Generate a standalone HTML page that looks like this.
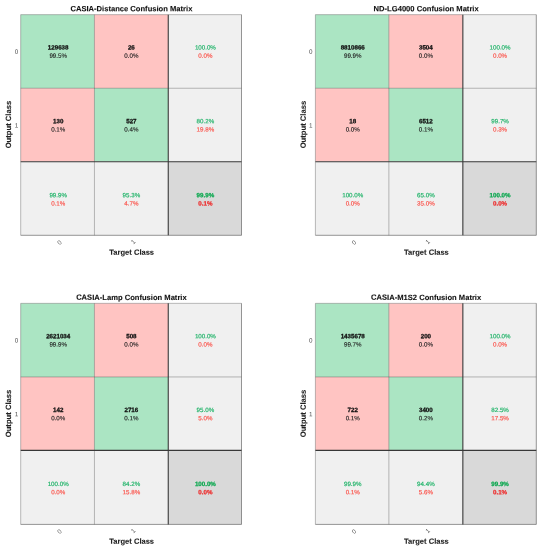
<!DOCTYPE html><html><head><meta charset="utf-8"><title>Confusion Matrices</title><style>html,body{margin:0;padding:0;background:#fff}svg{display:block;will-change:transform}text{font-family:"Liberation Sans",sans-serif;text-rendering:geometricPrecision}</style></head><body>
<svg width="543" height="550" viewBox="0 0 543 550">
<rect width="543" height="550" fill="#fff"/>
<g>
<rect x="20.70" y="14.65" width="73.75" height="73.60" fill="#ABE5C3"/>
<rect x="94.45" y="14.65" width="73.80" height="73.60" fill="#FFC4C2"/>
<rect x="168.25" y="14.65" width="73.25" height="73.60" fill="#F0F0F0"/>
<rect x="20.70" y="88.25" width="73.75" height="73.45" fill="#FFC4C2"/>
<rect x="94.45" y="88.25" width="73.80" height="73.45" fill="#ABE5C3"/>
<rect x="168.25" y="88.25" width="73.25" height="73.45" fill="#F0F0F0"/>
<rect x="20.70" y="161.70" width="73.75" height="73.60" fill="#F0F0F0"/>
<rect x="94.45" y="161.70" width="73.80" height="73.60" fill="#F0F0F0"/>
<rect x="168.25" y="161.70" width="73.25" height="73.60" fill="#D9D9D9"/>
<line x1="20.70" y1="14.65" x2="20.70" y2="235.30" stroke="#777" stroke-width="0.5"/>
<line x1="20.70" y1="14.65" x2="241.50" y2="14.65" stroke="#777" stroke-width="0.5"/>
<line x1="94.45" y1="14.65" x2="94.45" y2="235.30" stroke="#3a3a3a" stroke-width="0.35"/>
<line x1="20.70" y1="88.25" x2="241.50" y2="88.25" stroke="#3a3a3a" stroke-width="0.35"/>
<line x1="241.50" y1="14.65" x2="241.50" y2="235.30" stroke="#505050" stroke-width="0.6"/>
<line x1="20.70" y1="235.30" x2="241.50" y2="235.30" stroke="#505050" stroke-width="0.6"/>
<line x1="168.25" y1="14.65" x2="168.25" y2="235.30" stroke="#383838" stroke-width="1.1"/>
<line x1="20.70" y1="161.70" x2="241.50" y2="161.70" stroke="#383838" stroke-width="1.1"/>
<text transform="translate(58.18,49.60) rotate(0.1)" font-size="6.2" font-weight="bold" fill="#111" stroke="#111" stroke-width="0.28" text-anchor="middle">129638</text>
<text transform="translate(58.18,57.75) rotate(0.1)" font-size="6.2" font-weight="normal" fill="#202020" stroke="#202020" stroke-width="0.12" text-anchor="middle">99.5%</text>
<text transform="translate(131.35,49.60) rotate(0.1)" font-size="6.2" font-weight="bold" fill="#111" stroke="#111" stroke-width="0.28" text-anchor="middle">26</text>
<text transform="translate(131.35,57.75) rotate(0.1)" font-size="6.2" font-weight="normal" fill="#202020" stroke="#202020" stroke-width="0.12" text-anchor="middle">0.0%</text>
<text transform="translate(58.18,123.35) rotate(0.1)" font-size="6.2" font-weight="bold" fill="#111" stroke="#111" stroke-width="0.28" text-anchor="middle">130</text>
<text transform="translate(58.18,131.50) rotate(0.1)" font-size="6.2" font-weight="normal" fill="#202020" stroke="#202020" stroke-width="0.12" text-anchor="middle">0.1%</text>
<text transform="translate(131.35,123.35) rotate(0.1)" font-size="6.2" font-weight="bold" fill="#111" stroke="#111" stroke-width="0.28" text-anchor="middle">527</text>
<text transform="translate(131.35,131.50) rotate(0.1)" font-size="6.2" font-weight="normal" fill="#202020" stroke="#202020" stroke-width="0.12" text-anchor="middle">0.4%</text>
<text transform="translate(205.38,49.60) rotate(0.1)" font-size="6.2" font-weight="normal" fill="#22B46A" stroke="#22B46A" stroke-width="0.18" text-anchor="middle">100.0%</text>
<text transform="translate(205.38,57.75) rotate(0.1)" font-size="6.2" font-weight="normal" fill="#FB564E" stroke="#FB564E" stroke-width="0.18" text-anchor="middle">0.0%</text>
<text transform="translate(205.38,123.35) rotate(0.1)" font-size="6.2" font-weight="normal" fill="#22B46A" stroke="#22B46A" stroke-width="0.18" text-anchor="middle">80.2%</text>
<text transform="translate(205.38,131.50) rotate(0.1)" font-size="6.2" font-weight="normal" fill="#FB564E" stroke="#FB564E" stroke-width="0.18" text-anchor="middle">19.8%</text>
<text transform="translate(58.18,197.30) rotate(0.1)" font-size="6.2" font-weight="normal" fill="#22B46A" stroke="#22B46A" stroke-width="0.18" text-anchor="middle">99.9%</text>
<text transform="translate(58.18,205.45) rotate(0.1)" font-size="6.2" font-weight="normal" fill="#FB564E" stroke="#FB564E" stroke-width="0.18" text-anchor="middle">0.1%</text>
<text transform="translate(131.35,197.30) rotate(0.1)" font-size="6.2" font-weight="normal" fill="#22B46A" stroke="#22B46A" stroke-width="0.18" text-anchor="middle">95.3%</text>
<text transform="translate(131.35,205.45) rotate(0.1)" font-size="6.2" font-weight="normal" fill="#FB564E" stroke="#FB564E" stroke-width="0.18" text-anchor="middle">4.7%</text>
<text transform="translate(205.38,197.30) rotate(0.1)" font-size="6.2" font-weight="bold" fill="#0BA84F" stroke="#0BA84F" stroke-width="0.25" text-anchor="middle">99.9%</text>
<text transform="translate(205.38,205.45) rotate(0.1)" font-size="6.2" font-weight="bold" fill="#EE2C2C" stroke="#EE2C2C" stroke-width="0.25" text-anchor="middle">0.1%</text>
<text transform="translate(131.40,11.25) rotate(0.1)" font-size="7.6" font-weight="bold" fill="#111" stroke="#111" stroke-width="0.1" text-anchor="middle">CASIA-Distance Confusion Matrix</text>
<text transform="translate(131.70,254.70) rotate(0.1)" font-size="7.55" font-weight="bold" fill="#222" stroke="#222" stroke-width="0.1" text-anchor="middle">Target Class</text>
<text transform="translate(11.00,124.58) rotate(-89.9)" font-size="7.65" font-weight="bold" fill="#222" stroke="#222" stroke-width="0.1" text-anchor="middle">Output Class</text>
<text transform="translate(18.20,53.85) rotate(0.1)" font-size="6.3" font-weight="normal" fill="#505050" text-anchor="end">0</text>
<text transform="translate(62.18,242.70) rotate(-44.9)" font-size="6.3" font-weight="normal" fill="#505050" text-anchor="end">0</text>
<text transform="translate(18.20,127.55) rotate(0.1)" font-size="6.3" font-weight="normal" fill="#505050" text-anchor="end">1</text>
<text transform="translate(135.95,242.00) rotate(-44.9)" font-size="6.3" font-weight="normal" fill="#505050" text-anchor="end">1</text>
</g>
<g>
<rect x="315.40" y="14.65" width="73.45" height="73.60" fill="#ABE5C3"/>
<rect x="388.85" y="14.65" width="74.00" height="73.60" fill="#FFC4C2"/>
<rect x="462.85" y="14.65" width="73.45" height="73.60" fill="#F0F0F0"/>
<rect x="315.40" y="88.25" width="73.45" height="73.45" fill="#FFC4C2"/>
<rect x="388.85" y="88.25" width="74.00" height="73.45" fill="#ABE5C3"/>
<rect x="462.85" y="88.25" width="73.45" height="73.45" fill="#F0F0F0"/>
<rect x="315.40" y="161.70" width="73.45" height="73.60" fill="#F0F0F0"/>
<rect x="388.85" y="161.70" width="74.00" height="73.60" fill="#F0F0F0"/>
<rect x="462.85" y="161.70" width="73.45" height="73.60" fill="#D9D9D9"/>
<line x1="315.40" y1="14.65" x2="315.40" y2="235.30" stroke="#777" stroke-width="0.5"/>
<line x1="315.40" y1="14.65" x2="536.30" y2="14.65" stroke="#777" stroke-width="0.5"/>
<line x1="388.85" y1="14.65" x2="388.85" y2="235.30" stroke="#3a3a3a" stroke-width="0.35"/>
<line x1="315.40" y1="88.25" x2="536.30" y2="88.25" stroke="#3a3a3a" stroke-width="0.35"/>
<line x1="536.30" y1="14.65" x2="536.30" y2="235.30" stroke="#505050" stroke-width="0.6"/>
<line x1="315.40" y1="235.30" x2="536.30" y2="235.30" stroke="#505050" stroke-width="0.6"/>
<line x1="462.85" y1="14.65" x2="462.85" y2="235.30" stroke="#383838" stroke-width="1.1"/>
<line x1="315.40" y1="161.70" x2="536.30" y2="161.70" stroke="#383838" stroke-width="1.1"/>
<text transform="translate(352.73,49.60) rotate(0.1)" font-size="6.2" font-weight="bold" fill="#111" stroke="#111" stroke-width="0.28" text-anchor="middle">8810866</text>
<text transform="translate(352.73,57.75) rotate(0.1)" font-size="6.2" font-weight="normal" fill="#202020" stroke="#202020" stroke-width="0.12" text-anchor="middle">99.9%</text>
<text transform="translate(425.85,49.60) rotate(0.1)" font-size="6.2" font-weight="bold" fill="#111" stroke="#111" stroke-width="0.28" text-anchor="middle">3504</text>
<text transform="translate(425.85,57.75) rotate(0.1)" font-size="6.2" font-weight="normal" fill="#202020" stroke="#202020" stroke-width="0.12" text-anchor="middle">0.0%</text>
<text transform="translate(352.73,123.35) rotate(0.1)" font-size="6.2" font-weight="bold" fill="#111" stroke="#111" stroke-width="0.28" text-anchor="middle">18</text>
<text transform="translate(352.73,131.50) rotate(0.1)" font-size="6.2" font-weight="normal" fill="#202020" stroke="#202020" stroke-width="0.12" text-anchor="middle">0.0%</text>
<text transform="translate(425.85,123.35) rotate(0.1)" font-size="6.2" font-weight="bold" fill="#111" stroke="#111" stroke-width="0.28" text-anchor="middle">6512</text>
<text transform="translate(425.85,131.50) rotate(0.1)" font-size="6.2" font-weight="normal" fill="#202020" stroke="#202020" stroke-width="0.12" text-anchor="middle">0.1%</text>
<text transform="translate(500.07,49.60) rotate(0.1)" font-size="6.2" font-weight="normal" fill="#22B46A" stroke="#22B46A" stroke-width="0.18" text-anchor="middle">100.0%</text>
<text transform="translate(500.07,57.75) rotate(0.1)" font-size="6.2" font-weight="normal" fill="#FB564E" stroke="#FB564E" stroke-width="0.18" text-anchor="middle">0.0%</text>
<text transform="translate(500.07,123.35) rotate(0.1)" font-size="6.2" font-weight="normal" fill="#22B46A" stroke="#22B46A" stroke-width="0.18" text-anchor="middle">99.7%</text>
<text transform="translate(500.07,131.50) rotate(0.1)" font-size="6.2" font-weight="normal" fill="#FB564E" stroke="#FB564E" stroke-width="0.18" text-anchor="middle">0.3%</text>
<text transform="translate(352.73,197.30) rotate(0.1)" font-size="6.2" font-weight="normal" fill="#22B46A" stroke="#22B46A" stroke-width="0.18" text-anchor="middle">100.0%</text>
<text transform="translate(352.73,205.45) rotate(0.1)" font-size="6.2" font-weight="normal" fill="#FB564E" stroke="#FB564E" stroke-width="0.18" text-anchor="middle">0.0%</text>
<text transform="translate(425.85,197.30) rotate(0.1)" font-size="6.2" font-weight="normal" fill="#22B46A" stroke="#22B46A" stroke-width="0.18" text-anchor="middle">65.0%</text>
<text transform="translate(425.85,205.45) rotate(0.1)" font-size="6.2" font-weight="normal" fill="#FB564E" stroke="#FB564E" stroke-width="0.18" text-anchor="middle">35.0%</text>
<text transform="translate(500.07,197.30) rotate(0.1)" font-size="6.2" font-weight="bold" fill="#0BA84F" stroke="#0BA84F" stroke-width="0.25" text-anchor="middle">100.0%</text>
<text transform="translate(500.07,205.45) rotate(0.1)" font-size="6.2" font-weight="bold" fill="#EE2C2C" stroke="#EE2C2C" stroke-width="0.25" text-anchor="middle">0.0%</text>
<text transform="translate(426.15,11.25) rotate(0.1)" font-size="7.6" font-weight="bold" fill="#111" stroke="#111" stroke-width="0.1" text-anchor="middle">ND-LG4000 Confusion Matrix</text>
<text transform="translate(426.45,254.70) rotate(0.1)" font-size="7.55" font-weight="bold" fill="#222" stroke="#222" stroke-width="0.1" text-anchor="middle">Target Class</text>
<text transform="translate(305.70,124.58) rotate(-89.9)" font-size="7.65" font-weight="bold" fill="#222" stroke="#222" stroke-width="0.1" text-anchor="middle">Output Class</text>
<text transform="translate(312.50,53.85) rotate(0.1)" font-size="6.3" font-weight="normal" fill="#505050" text-anchor="end">0</text>
<text transform="translate(356.73,242.70) rotate(-44.9)" font-size="6.3" font-weight="normal" fill="#505050" text-anchor="end">0</text>
<text transform="translate(312.50,127.55) rotate(0.1)" font-size="6.3" font-weight="normal" fill="#505050" text-anchor="end">1</text>
<text transform="translate(430.45,242.00) rotate(-44.9)" font-size="6.3" font-weight="normal" fill="#505050" text-anchor="end">1</text>
</g>
<g>
<rect x="20.70" y="303.35" width="73.75" height="73.60" fill="#ABE5C3"/>
<rect x="94.45" y="303.35" width="73.80" height="73.60" fill="#FFC4C2"/>
<rect x="168.25" y="303.35" width="73.25" height="73.60" fill="#F0F0F0"/>
<rect x="20.70" y="376.95" width="73.75" height="73.45" fill="#FFC4C2"/>
<rect x="94.45" y="376.95" width="73.80" height="73.45" fill="#ABE5C3"/>
<rect x="168.25" y="376.95" width="73.25" height="73.45" fill="#F0F0F0"/>
<rect x="20.70" y="450.40" width="73.75" height="74.00" fill="#F0F0F0"/>
<rect x="94.45" y="450.40" width="73.80" height="74.00" fill="#F0F0F0"/>
<rect x="168.25" y="450.40" width="73.25" height="74.00" fill="#D9D9D9"/>
<line x1="20.70" y1="303.35" x2="20.70" y2="524.40" stroke="#777" stroke-width="0.5"/>
<line x1="20.70" y1="303.35" x2="241.50" y2="303.35" stroke="#777" stroke-width="0.5"/>
<line x1="94.45" y1="303.35" x2="94.45" y2="524.40" stroke="#3a3a3a" stroke-width="0.35"/>
<line x1="20.70" y1="376.95" x2="241.50" y2="376.95" stroke="#3a3a3a" stroke-width="0.35"/>
<line x1="241.50" y1="303.35" x2="241.50" y2="524.40" stroke="#505050" stroke-width="0.6"/>
<line x1="20.70" y1="524.40" x2="241.50" y2="524.40" stroke="#505050" stroke-width="0.6"/>
<line x1="168.25" y1="303.35" x2="168.25" y2="524.40" stroke="#383838" stroke-width="1.1"/>
<line x1="20.70" y1="450.40" x2="241.50" y2="450.40" stroke="#383838" stroke-width="1.1"/>
<text transform="translate(58.18,338.30) rotate(0.1)" font-size="6.2" font-weight="bold" fill="#111" stroke="#111" stroke-width="0.28" text-anchor="middle">2621034</text>
<text transform="translate(58.18,346.45) rotate(0.1)" font-size="6.2" font-weight="normal" fill="#202020" stroke="#202020" stroke-width="0.12" text-anchor="middle">99.9%</text>
<text transform="translate(131.35,338.30) rotate(0.1)" font-size="6.2" font-weight="bold" fill="#111" stroke="#111" stroke-width="0.28" text-anchor="middle">508</text>
<text transform="translate(131.35,346.45) rotate(0.1)" font-size="6.2" font-weight="normal" fill="#202020" stroke="#202020" stroke-width="0.12" text-anchor="middle">0.0%</text>
<text transform="translate(58.18,412.05) rotate(0.1)" font-size="6.2" font-weight="bold" fill="#111" stroke="#111" stroke-width="0.28" text-anchor="middle">142</text>
<text transform="translate(58.18,420.20) rotate(0.1)" font-size="6.2" font-weight="normal" fill="#202020" stroke="#202020" stroke-width="0.12" text-anchor="middle">0.0%</text>
<text transform="translate(131.35,412.05) rotate(0.1)" font-size="6.2" font-weight="bold" fill="#111" stroke="#111" stroke-width="0.28" text-anchor="middle">2716</text>
<text transform="translate(131.35,420.20) rotate(0.1)" font-size="6.2" font-weight="normal" fill="#202020" stroke="#202020" stroke-width="0.12" text-anchor="middle">0.1%</text>
<text transform="translate(205.38,338.30) rotate(0.1)" font-size="6.2" font-weight="normal" fill="#22B46A" stroke="#22B46A" stroke-width="0.18" text-anchor="middle">100.0%</text>
<text transform="translate(205.38,346.45) rotate(0.1)" font-size="6.2" font-weight="normal" fill="#FB564E" stroke="#FB564E" stroke-width="0.18" text-anchor="middle">0.0%</text>
<text transform="translate(205.38,412.05) rotate(0.1)" font-size="6.2" font-weight="normal" fill="#22B46A" stroke="#22B46A" stroke-width="0.18" text-anchor="middle">95.0%</text>
<text transform="translate(205.38,420.20) rotate(0.1)" font-size="6.2" font-weight="normal" fill="#FB564E" stroke="#FB564E" stroke-width="0.18" text-anchor="middle">5.0%</text>
<text transform="translate(58.18,486.00) rotate(0.1)" font-size="6.2" font-weight="normal" fill="#22B46A" stroke="#22B46A" stroke-width="0.18" text-anchor="middle">100.0%</text>
<text transform="translate(58.18,494.15) rotate(0.1)" font-size="6.2" font-weight="normal" fill="#FB564E" stroke="#FB564E" stroke-width="0.18" text-anchor="middle">0.0%</text>
<text transform="translate(131.35,486.00) rotate(0.1)" font-size="6.2" font-weight="normal" fill="#22B46A" stroke="#22B46A" stroke-width="0.18" text-anchor="middle">84.2%</text>
<text transform="translate(131.35,494.15) rotate(0.1)" font-size="6.2" font-weight="normal" fill="#FB564E" stroke="#FB564E" stroke-width="0.18" text-anchor="middle">15.8%</text>
<text transform="translate(205.38,486.00) rotate(0.1)" font-size="6.2" font-weight="bold" fill="#0BA84F" stroke="#0BA84F" stroke-width="0.25" text-anchor="middle">100.0%</text>
<text transform="translate(205.38,494.15) rotate(0.1)" font-size="6.2" font-weight="bold" fill="#EE2C2C" stroke="#EE2C2C" stroke-width="0.25" text-anchor="middle">0.0%</text>
<text transform="translate(131.40,299.95) rotate(0.1)" font-size="7.6" font-weight="bold" fill="#111" stroke="#111" stroke-width="0.1" text-anchor="middle">CASIA-Lamp Confusion Matrix</text>
<text transform="translate(131.70,543.80) rotate(0.1)" font-size="7.55" font-weight="bold" fill="#222" stroke="#222" stroke-width="0.1" text-anchor="middle">Target Class</text>
<text transform="translate(11.00,413.48) rotate(-89.9)" font-size="7.65" font-weight="bold" fill="#222" stroke="#222" stroke-width="0.1" text-anchor="middle">Output Class</text>
<text transform="translate(18.20,342.55) rotate(0.1)" font-size="6.3" font-weight="normal" fill="#505050" text-anchor="end">0</text>
<text transform="translate(62.18,531.80) rotate(-44.9)" font-size="6.3" font-weight="normal" fill="#505050" text-anchor="end">0</text>
<text transform="translate(18.20,416.25) rotate(0.1)" font-size="6.3" font-weight="normal" fill="#505050" text-anchor="end">1</text>
<text transform="translate(135.95,531.10) rotate(-44.9)" font-size="6.3" font-weight="normal" fill="#505050" text-anchor="end">1</text>
</g>
<g>
<rect x="315.40" y="303.35" width="73.45" height="73.60" fill="#ABE5C3"/>
<rect x="388.85" y="303.35" width="74.00" height="73.60" fill="#FFC4C2"/>
<rect x="462.85" y="303.35" width="73.45" height="73.60" fill="#F0F0F0"/>
<rect x="315.40" y="376.95" width="73.45" height="73.45" fill="#FFC4C2"/>
<rect x="388.85" y="376.95" width="74.00" height="73.45" fill="#ABE5C3"/>
<rect x="462.85" y="376.95" width="73.45" height="73.45" fill="#F0F0F0"/>
<rect x="315.40" y="450.40" width="73.45" height="74.00" fill="#F0F0F0"/>
<rect x="388.85" y="450.40" width="74.00" height="74.00" fill="#F0F0F0"/>
<rect x="462.85" y="450.40" width="73.45" height="74.00" fill="#D9D9D9"/>
<line x1="315.40" y1="303.35" x2="315.40" y2="524.40" stroke="#777" stroke-width="0.5"/>
<line x1="315.40" y1="303.35" x2="536.30" y2="303.35" stroke="#777" stroke-width="0.5"/>
<line x1="388.85" y1="303.35" x2="388.85" y2="524.40" stroke="#3a3a3a" stroke-width="0.35"/>
<line x1="315.40" y1="376.95" x2="536.30" y2="376.95" stroke="#3a3a3a" stroke-width="0.35"/>
<line x1="536.30" y1="303.35" x2="536.30" y2="524.40" stroke="#505050" stroke-width="0.6"/>
<line x1="315.40" y1="524.40" x2="536.30" y2="524.40" stroke="#505050" stroke-width="0.6"/>
<line x1="462.85" y1="303.35" x2="462.85" y2="524.40" stroke="#383838" stroke-width="1.1"/>
<line x1="315.40" y1="450.40" x2="536.30" y2="450.40" stroke="#383838" stroke-width="1.1"/>
<text transform="translate(352.73,338.30) rotate(0.1)" font-size="6.2" font-weight="bold" fill="#111" stroke="#111" stroke-width="0.28" text-anchor="middle">1435678</text>
<text transform="translate(352.73,346.45) rotate(0.1)" font-size="6.2" font-weight="normal" fill="#202020" stroke="#202020" stroke-width="0.12" text-anchor="middle">99.7%</text>
<text transform="translate(425.85,338.30) rotate(0.1)" font-size="6.2" font-weight="bold" fill="#111" stroke="#111" stroke-width="0.28" text-anchor="middle">200</text>
<text transform="translate(425.85,346.45) rotate(0.1)" font-size="6.2" font-weight="normal" fill="#202020" stroke="#202020" stroke-width="0.12" text-anchor="middle">0.0%</text>
<text transform="translate(352.73,412.05) rotate(0.1)" font-size="6.2" font-weight="bold" fill="#111" stroke="#111" stroke-width="0.28" text-anchor="middle">722</text>
<text transform="translate(352.73,420.20) rotate(0.1)" font-size="6.2" font-weight="normal" fill="#202020" stroke="#202020" stroke-width="0.12" text-anchor="middle">0.1%</text>
<text transform="translate(425.85,412.05) rotate(0.1)" font-size="6.2" font-weight="bold" fill="#111" stroke="#111" stroke-width="0.28" text-anchor="middle">3400</text>
<text transform="translate(425.85,420.20) rotate(0.1)" font-size="6.2" font-weight="normal" fill="#202020" stroke="#202020" stroke-width="0.12" text-anchor="middle">0.2%</text>
<text transform="translate(500.07,338.30) rotate(0.1)" font-size="6.2" font-weight="normal" fill="#22B46A" stroke="#22B46A" stroke-width="0.18" text-anchor="middle">100.0%</text>
<text transform="translate(500.07,346.45) rotate(0.1)" font-size="6.2" font-weight="normal" fill="#FB564E" stroke="#FB564E" stroke-width="0.18" text-anchor="middle">0.0%</text>
<text transform="translate(500.07,412.05) rotate(0.1)" font-size="6.2" font-weight="normal" fill="#22B46A" stroke="#22B46A" stroke-width="0.18" text-anchor="middle">82.5%</text>
<text transform="translate(500.07,420.20) rotate(0.1)" font-size="6.2" font-weight="normal" fill="#FB564E" stroke="#FB564E" stroke-width="0.18" text-anchor="middle">17.5%</text>
<text transform="translate(352.73,486.00) rotate(0.1)" font-size="6.2" font-weight="normal" fill="#22B46A" stroke="#22B46A" stroke-width="0.18" text-anchor="middle">99.9%</text>
<text transform="translate(352.73,494.15) rotate(0.1)" font-size="6.2" font-weight="normal" fill="#FB564E" stroke="#FB564E" stroke-width="0.18" text-anchor="middle">0.1%</text>
<text transform="translate(425.85,486.00) rotate(0.1)" font-size="6.2" font-weight="normal" fill="#22B46A" stroke="#22B46A" stroke-width="0.18" text-anchor="middle">94.4%</text>
<text transform="translate(425.85,494.15) rotate(0.1)" font-size="6.2" font-weight="normal" fill="#FB564E" stroke="#FB564E" stroke-width="0.18" text-anchor="middle">5.6%</text>
<text transform="translate(500.07,486.00) rotate(0.1)" font-size="6.2" font-weight="bold" fill="#0BA84F" stroke="#0BA84F" stroke-width="0.25" text-anchor="middle">99.9%</text>
<text transform="translate(500.07,494.15) rotate(0.1)" font-size="6.2" font-weight="bold" fill="#EE2C2C" stroke="#EE2C2C" stroke-width="0.25" text-anchor="middle">0.1%</text>
<text transform="translate(426.15,299.95) rotate(0.1)" font-size="7.6" font-weight="bold" fill="#111" stroke="#111" stroke-width="0.1" text-anchor="middle">CASIA-M1S2 Confusion Matrix</text>
<text transform="translate(426.45,543.80) rotate(0.1)" font-size="7.55" font-weight="bold" fill="#222" stroke="#222" stroke-width="0.1" text-anchor="middle">Target Class</text>
<text transform="translate(305.70,413.48) rotate(-89.9)" font-size="7.65" font-weight="bold" fill="#222" stroke="#222" stroke-width="0.1" text-anchor="middle">Output Class</text>
<text transform="translate(312.50,342.55) rotate(0.1)" font-size="6.3" font-weight="normal" fill="#505050" text-anchor="end">0</text>
<text transform="translate(356.73,531.80) rotate(-44.9)" font-size="6.3" font-weight="normal" fill="#505050" text-anchor="end">0</text>
<text transform="translate(312.50,416.25) rotate(0.1)" font-size="6.3" font-weight="normal" fill="#505050" text-anchor="end">1</text>
<text transform="translate(430.45,531.10) rotate(-44.9)" font-size="6.3" font-weight="normal" fill="#505050" text-anchor="end">1</text>
</g>
</svg></body></html>
